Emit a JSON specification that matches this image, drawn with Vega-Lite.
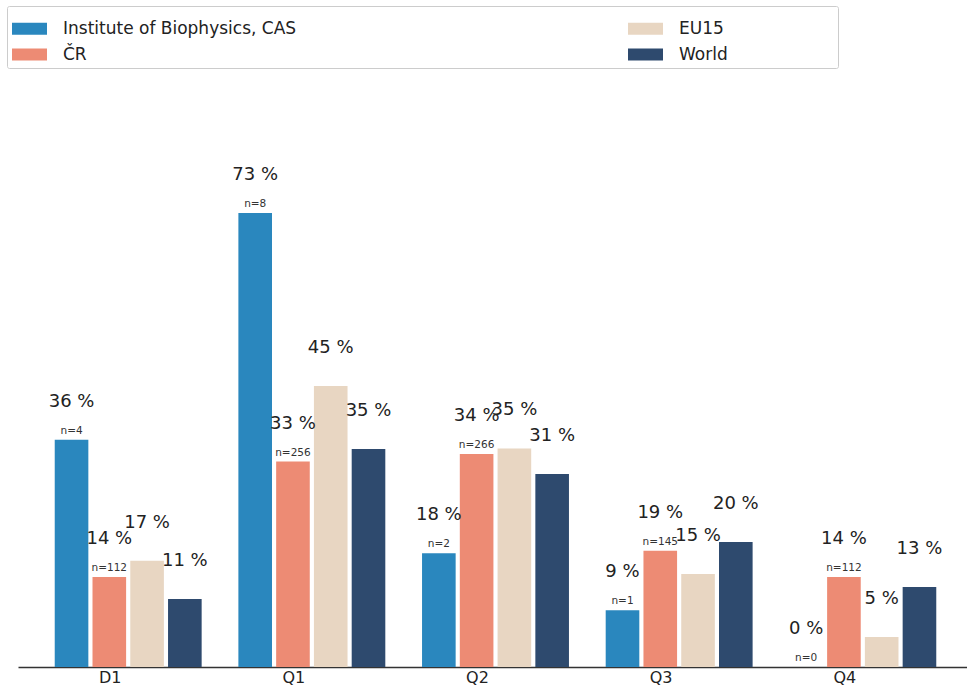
{
  "$schema": "https://vega.github.io/schema/vega-lite/v6.json",
  "autosize": "none",
  "width": 956,
  "height": 587,
  "padding": {"left": 11, "top": 80, "right": 0, "bottom": 20},
  "background": "white",
  "config": {
    "view": {"stroke": null},
    "font": "DejaVu Sans"
  },
  "data": {
    "values": [
      {"cat": "D1", "series": "Institute of Biophysics, CAS", "pct": 36.4, "label": "36 %", "n": "n=4"},
      {"cat": "D1", "series": "ČR", "pct": 14.4, "label": "14 %", "n": "n=112"},
      {"cat": "D1", "series": "EU15", "pct": 17.0, "label": "17 %", "n": ""},
      {"cat": "D1", "series": "World", "pct": 10.9, "label": "11 %", "n": ""},
      {"cat": "Q1", "series": "Institute of Biophysics, CAS", "pct": 72.7, "label": "73 %", "n": "n=8"},
      {"cat": "Q1", "series": "ČR", "pct": 32.9, "label": "33 %", "n": "n=256"},
      {"cat": "Q1", "series": "EU15", "pct": 45.0, "label": "45 %", "n": ""},
      {"cat": "Q1", "series": "World", "pct": 34.9, "label": "35 %", "n": ""},
      {"cat": "Q2", "series": "Institute of Biophysics, CAS", "pct": 18.2, "label": "18 %", "n": "n=2"},
      {"cat": "Q2", "series": "ČR", "pct": 34.1, "label": "34 %", "n": "n=266"},
      {"cat": "Q2", "series": "EU15", "pct": 35.0, "label": "35 %", "n": ""},
      {"cat": "Q2", "series": "World", "pct": 30.9, "label": "31 %", "n": ""},
      {"cat": "Q3", "series": "Institute of Biophysics, CAS", "pct": 9.1, "label": "9 %", "n": "n=1"},
      {"cat": "Q3", "series": "ČR", "pct": 18.6, "label": "19 %", "n": "n=145"},
      {"cat": "Q3", "series": "EU15", "pct": 14.9, "label": "15 %", "n": ""},
      {"cat": "Q3", "series": "World", "pct": 20.0, "label": "20 %", "n": ""},
      {"cat": "Q4", "series": "Institute of Biophysics, CAS", "pct": 0, "label": "0 %", "n": "n=0"},
      {"cat": "Q4", "series": "ČR", "pct": 14.4, "label": "14 %", "n": "n=112"},
      {"cat": "Q4", "series": "EU15", "pct": 4.8, "label": "5 %", "n": ""},
      {"cat": "Q4", "series": "World", "pct": 12.8, "label": "13 %", "n": ""}
    ]
  },
  "encoding": {
    "x": {
      "field": "cat",
      "type": "nominal",
      "sort": ["D1", "Q1", "Q2", "Q3", "Q4"],
      "scale": {"paddingInner": 0.2, "paddingOuter": 0.2, "range": [7, 962]},
      "axis": {
        "title": null,
        "labelAngle": 0,
        "labelFontSize": 16,
        "labelColor": "#222",
        "labelPadding": 2,
        "labelOffset": -18,
        "ticks": false,
        "domainColor": "#333",
        "domainWidth": 1.5
      }
    },
    "xOffset": {
      "field": "series",
      "type": "nominal",
      "scale": {
        "domain": ["Institute of Biophysics, CAS", "ČR", "EU15", "World"],
        "paddingInner": 0.11,
        "paddingOuter": 0
      }
    },
    "y": {
      "field": "pct",
      "type": "quantitative",
      "scale": {"domain": [0, 94], "nice": false},
      "axis": null
    }
  },
  "layer": [
    {
      "mark": {"type": "bar"},
      "encoding": {
        "color": {
          "field": "series",
          "type": "nominal",
          "scale": {
            "domain": ["Institute of Biophysics, CAS", "ČR", "EU15", "World"],
            "range": ["#2a87be", "#ed8b74", "#e8d6c2", "#2e4a6e"]
          },
          "legend": {
            "title": null,
            "orient": "none",
            "legendX": -4,
            "legendY": -74,
            "columns": 2,
            "columnPadding": 331,
            "rowPadding": -2,
            "direction": "vertical",
            "symbolType": "M-1,-0.34L1,-0.34L1,0.34L-1,0.34Z",
            "symbolSize": 1225,
            "symbolStrokeWidth": 0,
            "symbolOpacity": 1,
            "symbolOffset": 0,
            "labelOffset": 16,
            "labelFontSize": 17,
            "labelColor": "#222",
            "labelLimit": 500,
            "labelExpr": "datum.label == 'EU15' || datum.label == 'World' ? datum.label + ' \u2800\u2800\u2800\u2800\u2800\u2800\u2800\u2800' : datum.label",
            "padding": 5,
            "strokeColor": "#ccc",
            "fillColor": "white",
            "cornerRadius": 2
          }
        }
      }
    },
    {
      "mark": {"type": "text", "fontSize": 18, "color": "#222", "baseline": "alphabetic", "dy": -33},
      "encoding": {
        "text": {"field": "label"}
      }
    },
    {
      "mark": {"type": "text", "fontSize": 10.5, "color": "#333", "baseline": "alphabetic", "dy": -6},
      "encoding": {
        "text": {"field": "n"}
      }
    }
  ]
}
